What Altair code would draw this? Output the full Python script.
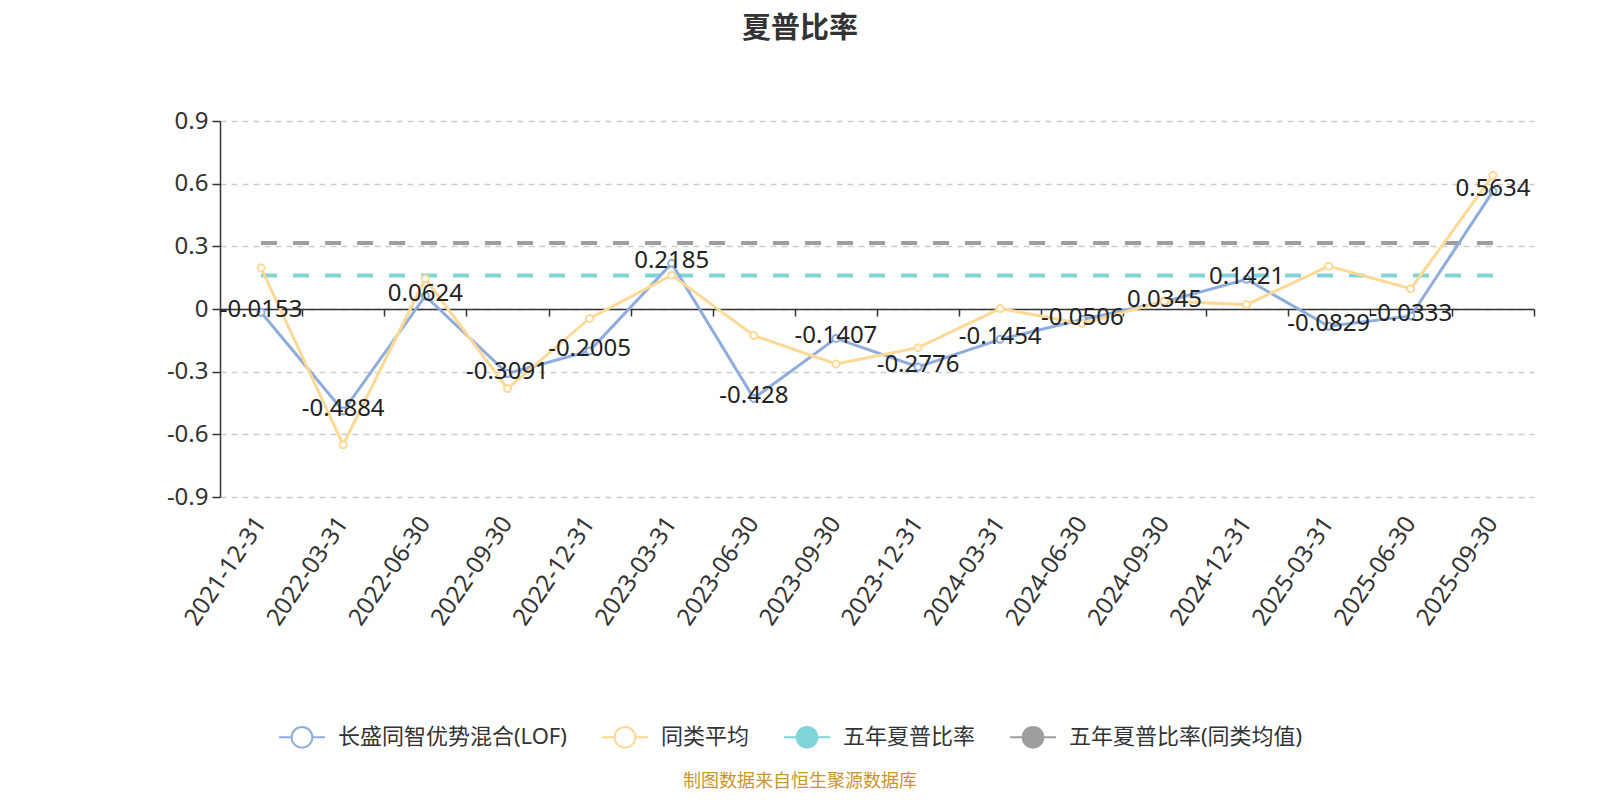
import altair as alt
import pandas as pd

dates = ["2021-12-31", "2022-03-31", "2022-06-30", "2022-09-30", "2022-12-31",
         "2023-03-31", "2023-06-30", "2023-09-30", "2023-12-31", "2024-03-31",
         "2024-06-30", "2024-09-30", "2024-12-31", "2025-03-31", "2025-06-30",
         "2025-09-30"]
fund = [-0.0153, -0.4884, 0.0624, -0.3091, -0.2005, 0.2185, -0.428, -0.1407,
        -0.2776, -0.1454, -0.0506, 0.0345, 0.1421, -0.0829, -0.0333, 0.5634]
peer = [0.197, -0.650, 0.145, -0.381, -0.045, 0.162, -0.127, -0.263,
        -0.185, 0.002, -0.070, 0.038, 0.021, 0.205, 0.097, 0.640]
five_year = 0.160
five_year_peer = 0.316
series_names = ["长盛同智优势混合(LOF)", "同类平均", "五年夏普比率", "五年夏普比率(同类均值)"]
colors = ["#8eacdc", "#fdd995", "#80d3d6", "#9e9e9e"]
fills = ["#ffffff", "#ffffff", "#80d3d6", "#9e9e9e"]
y_ticks = [-0.9, -0.6, -0.3, 0, 0.3, 0.6, 0.9]
title_text = "夏普比率"
footer_text = "制图数据来自恒生聚源数据库"

FONT = "Noto Sans, Noto Sans CJK SC, sans-serif"
W, H = 1314, 376

rows = []
for d, f, p in zip(dates, fund, peer):
    rows.append({"date": d, "series": series_names[0], "value": f, "label": str(f)})
    rows.append({"date": d, "series": series_names[1], "value": p, "label": ""})
    rows.append({"date": d, "series": series_names[2], "value": five_year, "label": ""})
    rows.append({"date": d, "series": series_names[3], "value": five_year_peer, "label": ""})
df = pd.DataFrame(rows)

xscale = alt.Scale(type="band", domain=dates, paddingInner=0, paddingOuter=0)
x_labels = alt.X("date:N", scale=xscale, axis=alt.Axis(
    title=None, orient="bottom", domain=False, ticks=False, grid=False,
    labelAngle=-56, labelAlign="right", labelBaseline="middle", labelPadding=22,
    labelFontSize=24, labelColor="#333333", labelFont=FONT, labelOverlap=False))
x_zero = alt.X("date:N", scale=xscale, axis=alt.Axis(
    title=None, orient="bottom", offset=-H / 2, labels=False, domain=True,
    domainColor="#333333", domainWidth=1.5, ticks=True, tickBand="extent",
    tickSize=7, tickColor="#333333", tickWidth=1.5, grid=False))
x_none = alt.X("date:N", scale=xscale, axis=None)

y_enc = alt.Y("value:Q", scale=alt.Scale(domain=[-0.9, 0.9], nice=False, zero=False),
              axis=alt.Axis(title=None, values=y_ticks,
                            labelExpr="datum.value == 0 ? '0' : (datum.value < 0 ? '-' : '') + format(abs(datum.value), '.1f')",
                            domain=True, domainColor="#333333", domainWidth=1.5,
                            ticks=True, tickSize=8, tickColor="#333333", tickWidth=1.5,
                            labelPadding=4, labelFontSize=24, labelColor="#333333",
                            labelFont=FONT, grid=True, gridColor="#cccccc",
                            gridDash=[6, 5], gridWidth=1.5))

sym_path = ("M-1,0L-0.45,0M0.45,0L1,0M0.45,0A0.45,0.45,0,1,1,-0.45,0"
            "A0.45,0.45,0,1,1,0.45,0Z")
legend = alt.Legend(title=None, orient="none", legendX=58, legendY=592,
                    direction="horizontal", symbolType=sym_path, symbolSize=2116,
                    symbolStrokeWidth=2, labelFontSize=22, labelColor="#333333",
                    labelFont=FONT, labelOffset=12, columnPadding=30, padding=0,
                    labelLimit=500, symbolOpacity=1)
color_enc = alt.Color("series:N", scale=alt.Scale(domain=series_names, range=colors),
                      legend=legend)
fill_enc = alt.Fill("series:N", scale=alt.Scale(domain=series_names, range=fills),
                    legend=legend)

base = alt.Chart(df)

dash_lines = base.transform_filter(
    alt.FieldOneOfPredicate(field="series", oneOf=series_names[2:])
).mark_line(strokeWidth=4, strokeDash=[16, 16]).encode(x=x_labels, y=y_enc, color=color_enc)

blue_line = base.transform_filter(
    alt.datum.series == series_names[0]
).mark_line(strokeWidth=3).encode(x=x_none, y=y_enc, color=color_enc)
blue_pts = base.transform_filter(
    alt.datum.series == series_names[0]
).mark_point(shape="circle", filled=False, size=49, strokeWidth=2,
             opacity=1, fillOpacity=1).encode(x=x_none, y=y_enc, color=color_enc, fill=fill_enc)

yel_line = base.transform_filter(
    alt.datum.series == series_names[1]
).mark_line(strokeWidth=3).encode(x=x_none, y=y_enc, color=color_enc)
yel_pts = base.transform_filter(
    alt.datum.series == series_names[1]
).mark_point(shape="circle", filled=False, size=49, strokeWidth=2,
             opacity=1, fillOpacity=1).encode(x=x_none, y=y_enc, color=color_enc, fill=fill_enc)

labels = base.transform_filter(
    alt.datum.series == series_names[0]
).mark_text(fontSize=24, font=FONT, color="#222222", baseline="middle",
            align="center", dy=-2).encode(x=x_zero, y=y_enc, text="label:N")

footer = alt.Chart(pd.DataFrame({"t": [footer_text]})).mark_text(
    fontSize=18, font=FONT, color="#c9962c", align="center", baseline="middle"
).encode(text="t:N", x=alt.value(580), y=alt.value(661))

chart = alt.layer(
    dash_lines, blue_line, blue_pts, yel_line, yel_pts, labels, footer
).resolve_axis(x="independent").properties(
    width=W, height=H,
    padding={"left": 212, "top": 113, "right": 58, "bottom": 295},
    autosize=alt.AutoSizeParams(type="none"),
    title=alt.TitleParams(title_text, font=FONT, fontSize=29, fontWeight="bold",
                          color="#333333", anchor="middle", dx=-77, offset=36,
                          baseline="bottom"),
).configure_view(stroke=None)

chart.save("out.html", embed_options={"renderer": "svg", "actions": False})
